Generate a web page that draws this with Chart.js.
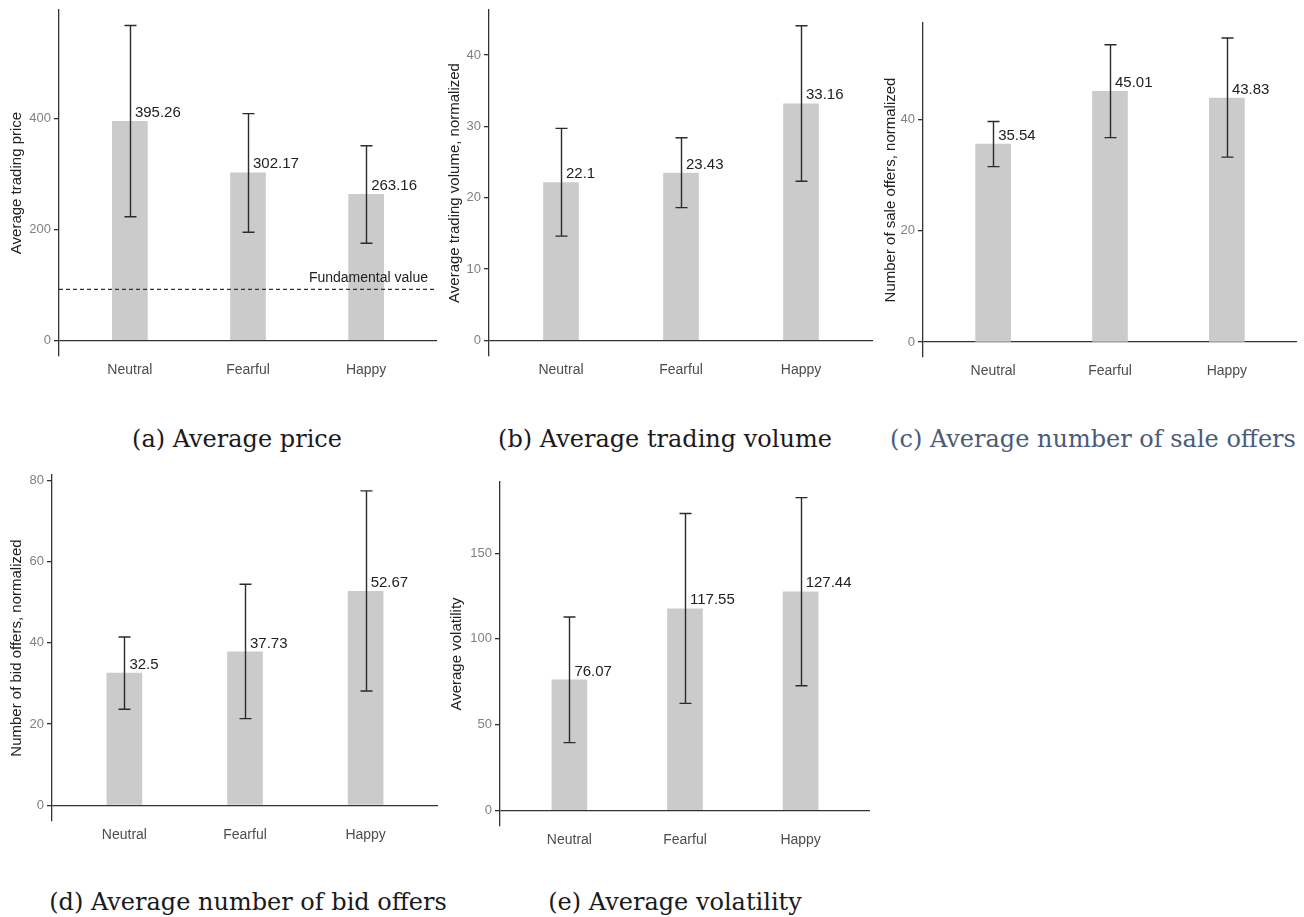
<!DOCTYPE html>
<html>
<head>
<meta charset="utf-8">
<script src="https://cdn.jsdelivr.net/npm/chart.js@4.4.0/dist/chart.umd.min.js"></script>
<style>
body { margin: 0; background: #fff; width: 1304px; height: 917px; position: relative; overflow: hidden; }
canvas { position: absolute; }
.cap { position: absolute; font-family: "DejaVu Serif", Georgia, serif; font-size: 24px; line-height: 28px; color: #1a1a1a; white-space: nowrap; transform: translateX(-50%); }
</style>
</head>
<body>
<script>
// categories shared by every panel
var categories = ['Neutral', 'Fearful', 'Happy'];

// (a) average price
var priceMeans = [395.26, 302.17, 263.16];
var priceLow = [223, 195, 175];
var priceHigh = [568, 409, 351];
var priceTicks = [0, 200, 400];
var fundamentalValue = 92;

// (b) trading volume
var volumeMeans = [22.1, 23.43, 33.16];
var volumeLow = [14.6, 18.6, 22.3];
var volumeHigh = [29.7, 28.4, 44.1];
var volumeTicks = [0, 10, 20, 30, 40];

// (c) sale offers
var saleMeans = [35.54, 45.01, 43.83];
var saleLow = [31.5, 36.7, 33.2];
var saleHigh = [39.6, 53.4, 54.6];
var saleTicks = [0, 20, 40];

// (d) bid offers
var bidMeans = [32.5, 37.73, 52.67];
var bidLow = [23.6, 21.3, 28.1];
var bidHigh = [41.4, 54.4, 77.4];
var bidTicks = [0, 20, 40, 60, 80];

// (e) volatility
var volatMeans = [76.07, 117.55, 127.44];
var volatLow = [39.5, 62.4, 72.7];
var volatHigh = [112.8, 173.1, 182.4];
var volatTicks = [0, 50, 100, 150];

Chart.defaults.font.family = '"Liberation Sans", Arial, sans-serif';

// panel placement on the page (axis x, plot top/bottom/right, title centre)
var panels = [
    { title: 'Average trading price', means: priceMeans, low: priceLow, high: priceHigh, ticks: priceTicks,
      yMin: -28.4, yMax: 596, axisX: 59, top: 10, bottom: 356, right: 437, titleX: 17,
      caption: '(a) Average price', capX: 237, capY: 439, capColor: '#1a1a1a', hline: fundamentalValue },
    { title: 'Average trading volume, normalized', means: volumeMeans, low: volumeLow, high: volumeHigh, ticks: volumeTicks,
      yMin: -2.2, yMax: 46.3, axisX: 489, top: 10, bottom: 356, right: 873, titleX: 455,
      caption: '(b) Average trading volume', capX: 665, capY: 439, capColor: '#1a1a1a' },
    { title: 'Number of sale offers, normalized', means: saleMeans, low: saleLow, high: saleHigh, ticks: saleTicks,
      yMin: -2.7, yMax: 57.3, axisX: 923, top: 23, bottom: 357, right: 1297, titleX: 891,
      caption: '(c) Average number of sale offers', capX: 1093, capY: 439, capColor: '#4b5b78' },
    { title: 'Number of bid offers, normalized', means: bidMeans, low: bidLow, high: bidHigh, ticks: bidTicks,
      yMin: -3.9, yMax: 81.3, axisX: 52, top: 475, bottom: 821, right: 438, titleX: 17,
      caption: '(d) Average number of bid offers', capX: 248, capY: 902, capColor: '#1a1a1a' },
    { title: 'Average volatility', means: volatMeans, low: volatLow, high: volatHigh, ticks: volatTicks,
      yMin: -9.1, yMax: 191.5, axisX: 500, top: 482, bottom: 826, right: 870, titleX: 457,
      caption: '(e) Average volatility', capX: 675, capY: 902, capColor: '#1a1a1a' }
];

// draws the value labels, the error bars and the fundamental value text
var errorBarPlugin = {
    id: 'errorBars',
    afterDatasetsDraw: function (chart) {
        var p = chart.options.plugins.errorBars;
        var ctx = chart.ctx;
        var xs = chart.scales.x;
        var ys = chart.scales.y;
        ctx.save();
        ctx.font = '15px "Liberation Sans", Arial, sans-serif';
        ctx.fillStyle = '#222';
        ctx.textAlign = 'left';
        ctx.textBaseline = 'bottom';
        for (var i = 0; i < p.means.length; i++) {
            var x = xs.getPixelForValue(i + 1);
            ctx.fillText(String(p.means[i]), x + 5, ys.getPixelForValue(p.means[i]) - 1);
        }
        ctx.strokeStyle = '#2b2b2b';
        ctx.lineWidth = 1.4;
        for (var j = 0; j < p.means.length; j++) {
            var cx = Math.round(xs.getPixelForValue(j + 1)) + 0.5;
            var yl = ys.getPixelForValue(p.low[j]);
            var yh = ys.getPixelForValue(p.high[j]);
            ctx.beginPath();
            ctx.moveTo(cx, yl);
            ctx.lineTo(cx, yh);
            ctx.moveTo(cx - 6, yl);
            ctx.lineTo(cx + 6, yl);
            ctx.moveTo(cx - 6, yh);
            ctx.lineTo(cx + 6, yh);
            ctx.stroke();
        }
        if (p.hline !== undefined) {
            ctx.font = '14px "Liberation Sans", Arial, sans-serif';
            ctx.textAlign = 'right';
            ctx.fillText('Fundamental value', chart.chartArea.right - 9, ys.getPixelForValue(p.hline) - 4);
        }
        ctx.restore();
    }
};

panels.forEach(function (p) {
    var canvas = document.createElement('canvas');
    var left = p.titleX - 13;
    var top = p.top - 4;
    var w = p.right + 4 - left;
    var h = p.bottom - p.top + 4 + 30;
    canvas.width = w;
    canvas.height = h;
    canvas.style.left = left + 'px';
    canvas.style.top = top + 'px';
    canvas.style.width = w + 'px';
    canvas.style.height = h + 'px';
    document.body.appendChild(canvas);

    var datasets = [{
        type: 'bar',
        data: categories.map(function (c, i) { return { x: i + 1, y: p.means[i] }; }),
        backgroundColor: '#cbcbcb',
        barThickness: 35,
        order: 2
    }];
    if (p.hline !== undefined) {
        datasets.push({
            type: 'line',
            data: [{ x: 0.4, y: p.hline }, { x: 3.6, y: p.hline }],
            borderColor: '#333',
            borderWidth: 1.3,
            borderDash: [4, 3],
            pointRadius: 0,
            order: 1
        });
    }

    var yWidth = p.axisX - left;
    new Chart(canvas, {
        type: 'bar',
        data: { datasets: datasets },
        options: {
            responsive: false,
            animation: false,
            devicePixelRatio: 1,
            layout: { padding: { top: 4, right: 4, left: 0, bottom: 0 } },
            plugins: {
                legend: { display: false },
                tooltip: { enabled: false },
                errorBars: { means: p.means, low: p.low, high: p.high, hline: p.hline }
            },
            scales: {
                x: {
                    type: 'linear',
                    offset: false,
                    min: 0.4,
                    max: 3.6,
                    grid: { display: false, drawTicks: false, offset: false },
                    border: { display: false },
                    afterBuildTicks: function (s) {
                        s.ticks = categories.map(function (c, i) { return { value: i + 1 }; });
                    },
                    ticks: {
                        callback: function (v) { return categories[Math.round(v) - 1]; },
                        color: '#4d4d4d',
                        font: { size: 14 },
                        padding: 6,
                        maxRotation: 0,
                        autoSkip: false
                    },
                    afterFit: function (s) {
                        s.height = 30;
                        s.paddingLeft = 0;
                        s.paddingRight = 0;
                    }
                },
                y: {
                    min: p.yMin,
                    max: p.yMax,
                    afterBuildTicks: function (s) {
                        s.ticks = p.ticks.map(function (v) { return { value: v }; });
                    },
                    grid: {
                        color: function (c) { return c.tick && c.tick.value === 0 ? '#333' : 'rgba(0,0,0,0)'; },
                        lineWidth: 1.3,
                        tickColor: '#333',
                        tickLength: 5
                    },
                    border: { display: true, color: '#333', width: 1.3 },
                    ticks: { color: '#808080', font: { size: 13 }, padding: 3 },
                    title: {
                        display: true,
                        text: p.title,
                        color: '#222',
                        font: { size: 15 },
                        padding: { top: 4, bottom: 0 }
                    },
                    afterFit: function (s) {
                        s.width = yWidth;
                        s.paddingTop = 0;
                        s.paddingBottom = 0;
                    }
                }
            }
        },
        plugins: [errorBarPlugin]
    });

    var cap = document.createElement('div');
    cap.className = 'cap';
    cap.textContent = p.caption;
    cap.style.left = p.capX + 'px';
    cap.style.top = (p.capY - 14) + 'px';
    cap.style.color = p.capColor;
    document.body.appendChild(cap);
});
</script>
</body>
</html>
